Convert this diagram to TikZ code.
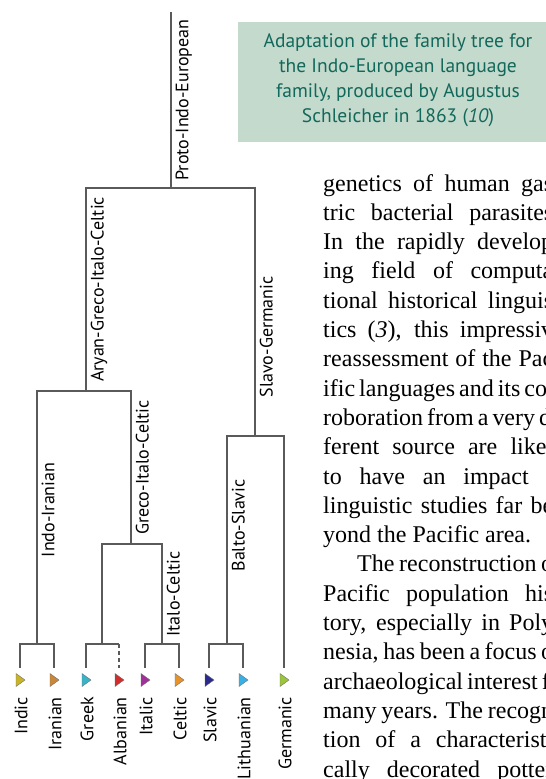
\documentclass[tikz,border=0pt]{standalone}
\usepackage{fontspec}
\setmainfont{Liberation Serif}
\newfontfamily\treefont{PT Sans}
\usetikzlibrary{positioning}
\definecolor{branchgray}{HTML}{5A5A5A}
\definecolor{capfill}{HTML}{C4DACD}
\definecolor{captext}{HTML}{12685A}
\definecolor{cIndic}{HTML}{C8B428}
\definecolor{cIranian}{HTML}{C8873A}
\definecolor{cGreek}{HTML}{38B4C8}
\definecolor{cAlbanian}{HTML}{D22D2D}
\definecolor{cItalic}{HTML}{A0309A}
\definecolor{cCeltic}{HTML}{E8922A}
\definecolor{cSlavic}{HTML}{2A2A8C}
\definecolor{cLithuanian}{HTML}{38B0E6}
\definecolor{cGermanic}{HTML}{9CC43C}
\tikzset{
    branch/.style={draw=branchgray, line width=1.4pt},
    cladelabel/.style={font=\treefont\fontsize{18}{20}\selectfont, rotate=90, anchor=north, inner sep=4pt},
    leaflabel/.style={font=\treefont\fontsize{18}{20}\selectfont, rotate=90, anchor=east, inner sep=2pt},
    leaftip/.style={draw=black!55, line width=0.4pt},
    bodyline/.style={anchor=base west, inner sep=0pt, font=\fontsize{24}{29}\selectfont},
    captiontext/.style={font=\treefont\fontsize{19.5}{25}\selectfont, text=captext, align=center}
}

\begin{document}
\begin{tikzpicture}[x=1pt, y=-1pt]
\useasboundingbox (0,0) rectangle (546,779);
\clip (0,0) rectangle (546,779);

\fill[capfill] (238,22) rectangle (546,142);
\node[captiontext] (caption) at (398,80) {Adaptation of the family tree for\\ the Indo-European language\\ family, produced by Augustus\\ Schleicher in 1863 (\textit{10})};

\coordinate (pie-top) at (171,12);
\coordinate (pie) at (171,188);
\coordinate (agic) at (86,391);
\coordinate (sg) at (255,436);
\coordinate (ii) at (37,644);
\coordinate (gic) at (131,544);
\coordinate (ga) at (102,644);
\coordinate (ic) at (162,644);
\coordinate (bs) at (227,644);
\coordinate (alb-bar) at (119,644);

\foreach \lf/\x/\col/\txt in {indic/20/cIndic/Indic, iranian/54/cIranian/Iranian, greek/86/cGreek/Greek,
    albanian/119/cAlbanian/Albanian, italic/145/cItalic/Italic, celtic/179/cCeltic/Celtic,
    slavic/209/cSlavic/Slavic, lithuanian/243/cLithuanian/Lithuanian, germanic/284/cGermanic/Germanic} {
    \coordinate (\lf) at (\x,668);
    \draw[leaftip, fill=\col] (\x,680) ++(-4,-6.5) -- ++(9,6.5) -- ++(-9,6.5) -- cycle;
    \node[leaflabel] (\lf-label) at (\x+1,695) {\txt};
}

\draw[branch] (pie-top) -- (pie) node[cladelabel, midway] (pie-label) {Proto-Indo-European};
\draw[branch] (pie) -| (agic) node[cladelabel, pos=0.75] (agic-label) {Aryan-Greco-Italo-Celtic};
\draw[branch] (pie) -| (sg) node[cladelabel, pos=0.8] (sg-label) {Slavo-Germanic};
\draw[branch] (agic) -| (ii) node[cladelabel, pos=0.735] (ii-label) {Indo-Iranian};
\draw[branch] (agic) -| (gic) node[cladelabel, pos=0.75] (gic-label) {Greco-Italo-Celtic};
\draw[branch] (gic) -| (ga);
\draw[branch] (gic) -| (ic) node[cladelabel, pos=0.75] (ic-label) {Italo-Celtic};
\draw[branch] (sg) -| (bs) node[cladelabel, pos=0.715] (bs-label) {Balto-Slavic};
\draw[branch] (sg) -| (germanic);
\draw[branch] (ii) -| (indic);
\draw[branch] (ii) -| (iranian);
\draw[branch] (ga) -| (greek);
\draw[branch] (ga) -| (alb-bar);
\draw[branch, dash pattern=on 4pt off 3pt] (alb-bar) -- (albanian);
\draw[branch] (ic) -| (italic);
\draw[branch] (ic) -| (celtic);
\draw[branch] (bs) -| (slavic);
\draw[branch] (bs) -| (lithuanian);

\foreach \i/\txt in {0/{genetics of human gas}, 1/{tric bacterial parasites}, 2/{In the rapidly develop},
    3/{ing field of computa}, 4/{tional historical linguis}, 5/{tics (\textit{3}), this impressiv},
    6/{reassessment of the Pac}, 7/{ific languages and its cor}, 8/{roboration from a very di},
    9/{ferent source are likel}, 10/{to have an impact i}, 11/{linguistic studies far be},
    12/{yond the Pacific area.\hfill}, 13/{\hspace*{34pt}The reconstruction o}, 14/{Pacific population his},
    15/{tory, especially in Poly}, 16/{nesia, has been a focus o}, 17/{archaeological interest fo},
    18/{many years. The recogn}, 19/{tion of a characteristi}, 20/{cally decorated potter}} {
    \node[bodyline] (body-\i) at (323,{191+29.3*\i}) {\makebox[230pt][s]{\txt}};
}
\end{tikzpicture}
\end{document}
